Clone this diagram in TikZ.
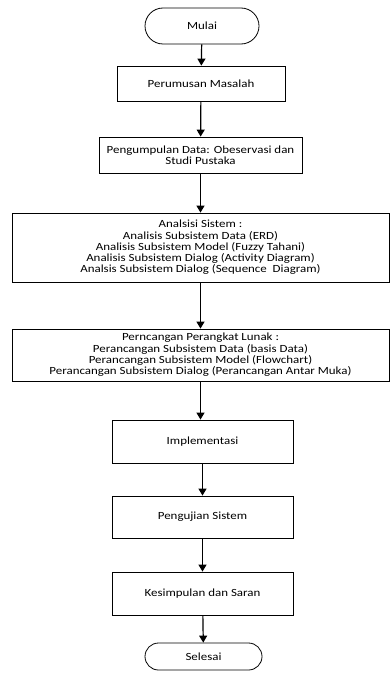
\documentclass[tikz,border=0pt]{standalone}
\usepackage{fontspec}
\setmainfont{Carlito}[FakeStretch=1.18]
\usetikzlibrary{arrows.meta,shapes.misc}
\tikzset{
  proses/.style={draw,line width=0.8bp,rectangle,align=center,inner sep=0pt,
    font=\fontsize{11}{11.3}\selectfont},
  terminal/.style={draw,line width=0.8bp,rounded rectangle,inner sep=0pt,
    font=\fontsize{11}{11.3}\selectfont},
  alur/.style={line width=1.2bp,-{Triangle[width=8bp,length=7bp]}}
}
\begin{document}
\begin{tikzpicture}[x=1bp,y=-1bp]
\useasboundingbox (0,0) rectangle (391,680);
% terminator dan proses
\node[terminal,minimum width=114bp,minimum height=36bp] (mulai) at (202,26) {Mulai};
\node[proses,minimum width=168bp,minimum height=35bp] (rumus) at (201,83.5) {Perumusan Masalah};
\node[proses,minimum width=203bp,minimum height=36bp] (kumpul) at (200.5,155)
  {Pengumpulan Data: Obeservasi dan\\Studi Pustaka};
\node[proses,minimum width=377bp,minimum height=69bp] (analisis) at (200.5,247.5)
  {Analsisi Sistem :\\Analisis Subsistem Data (ERD)\\Analisis Subsistem Model (Fuzzy Tahani)\\
   Analisis Subsistem Dialog (Activity Diagram)\\Analsis Subsistem Dialog (Sequence~~Diagram)};
\node[proses,minimum width=377bp,minimum height=52bp] (rancang) at (200.5,355)
  {Perncangan Perangkat Lunak :\\Perancangan Subsistem Data (basis Data)\\
   Perancangan Subsistem Model (Flowchart)\\Perancangan Subsistem Dialog (Perancangan Antar Muka)};
\node[proses,minimum width=181bp,minimum height=43bp] (impl) at (202.5,441.5) {Implementasi};
\node[proses,minimum width=181bp,minimum height=42bp] (uji) at (202.5,517) {Pengujian Sistem};
\node[proses,minimum width=181bp,minimum height=43bp] (simpul) at (202.5,593.5) {Kesimpulan dan Saran};
\node[terminal,minimum width=117bp,minimum height=27bp] (selesai) at (203.5,656.5) {Selesai};
% alur
\draw[alur] (mulai) -- (rumus);
\draw[alur] (rumus) -- (kumpul);
\draw[alur] (kumpul) -- (analisis);
\draw[alur] (analisis) -- (rancang);
\draw[alur] (rancang.south) -- (rancang.south|-impl.north);
\draw[alur] (impl) -- (uji);
\draw[alur] (uji) -- (simpul);
\draw[alur] (simpul) -- (selesai);
\end{tikzpicture}
\end{document}
